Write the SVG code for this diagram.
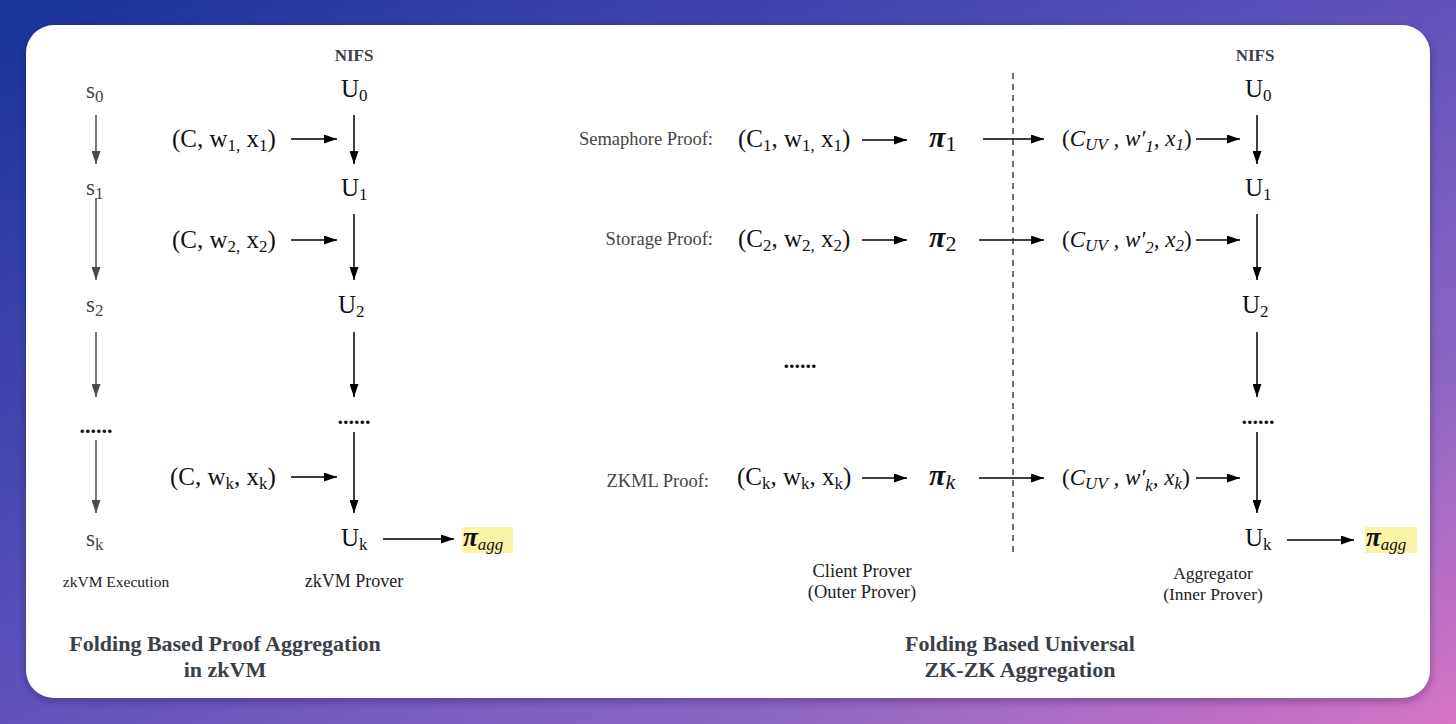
<svg xmlns="http://www.w3.org/2000/svg" width="1456" height="724" viewBox="0 0 1456 724">
<defs>
<linearGradient id="bg" x1="0" y1="0" x2="1" y2="1">
<stop offset="0" stop-color="#17349a"/>
<stop offset="0.45" stop-color="#5a4fb8"/>
<stop offset="0.75" stop-color="#8a66c4"/>
<stop offset="1" stop-color="#d874c4"/>
</linearGradient>
<filter id="sh" x="-5%" y="-5%" width="110%" height="115%">
<feDropShadow dx="0" dy="3" stdDeviation="4" flood-color="#1a1040" flood-opacity="0.35"/>
</filter>
<marker id="ah" markerUnits="userSpaceOnUse" markerWidth="13" markerHeight="9" refX="13" refY="4.5" orient="auto">
<path d="M0,0 L13,4.5 L0,9 z" fill="#000"/>
</marker>
<marker id="ahg" markerUnits="userSpaceOnUse" markerWidth="13" markerHeight="9" refX="13" refY="4.5" orient="auto">
<path d="M0,0 L13,4.5 L0,9 z" fill="#454a55"/>
</marker>
<style>
.m{font-family:"Liberation Serif",serif;font-size:25px;fill:#111}
.mi{font-family:"Liberation Serif",serif;font-style:italic;font-size:23px;fill:#111}
.sub{font-size:17px}
.s{font-family:"Liberation Serif",serif;font-size:23px;fill:#444}
.lbl{font-family:"Liberation Serif",serif;font-size:18.5px;fill:#444}
.cap{font-family:"Liberation Serif",serif;font-size:18px;fill:#222}
.nifs{font-family:"Liberation Serif",serif;font-size:17px;font-weight:bold;fill:#3a3f4a}
.title{font-family:"Liberation Serif",serif;font-size:22px;font-weight:bold;fill:#3a3f4a}
.pi{font-family:"Liberation Serif",serif;font-style:italic;font-weight:bold;font-size:30px;fill:#111}
.pa{font-family:"Liberation Serif",serif;font-style:italic;font-weight:bold;font-size:27px;fill:#111}
.dots{font-family:"Liberation Serif",serif;font-size:22px;font-weight:bold;fill:#111}
.a{stroke:#000;stroke-width:1.5;fill:none;marker-end:url(#ah)}
.ag{stroke:#454a55;stroke-width:1.5;fill:none;marker-end:url(#ahg)}
.hl{fill:#fbf3a6}
</style>
</defs>
<rect x="0" y="0" width="1456" height="724" fill="url(#bg)"/>
<rect x="26" y="25" width="1404" height="673" rx="28" ry="28" fill="#fff" filter="url(#sh)"/>

<g id="connectors">
<line class="ag" x1="96" y1="115" x2="96" y2="164"/>
<line class="ag" x1="96" y1="198" x2="96" y2="280"/>
<line class="ag" x1="96" y1="332" x2="96" y2="397"/>
<line class="ag" x1="96" y1="440" x2="96" y2="513"/>
<line class="a" x1="354" y1="115" x2="354" y2="164"/>
<line class="a" x1="354" y1="214" x2="354" y2="280"/>
<line class="a" x1="354" y1="332" x2="354" y2="397"/>
<line class="a" x1="354" y1="432" x2="354" y2="513"/>
<line class="a" x1="291" y1="139" x2="337" y2="139"/>
<line class="a" x1="291" y1="240" x2="337" y2="240"/>
<line class="a" x1="291" y1="477" x2="337" y2="477"/>
<line class="a" x1="383" y1="539" x2="454" y2="539"/>
<line class="a" x1="862" y1="140" x2="907" y2="140"/>
<line class="a" x1="862" y1="240" x2="907" y2="240"/>
<line class="a" x1="862" y1="478" x2="907" y2="478"/>
<line class="a" x1="983" y1="139" x2="1044" y2="139"/>
<line class="a" x1="979" y1="240" x2="1044" y2="240"/>
<line class="a" x1="979" y1="478" x2="1044" y2="478"/>
<line class="a" x1="1196" y1="139" x2="1240" y2="139"/>
<line class="a" x1="1196" y1="240" x2="1240" y2="240"/>
<line class="a" x1="1196" y1="478" x2="1240" y2="478"/>
<line class="a" x1="1257" y1="115" x2="1257" y2="164"/>
<line class="a" x1="1257" y1="214" x2="1257" y2="280"/>
<line class="a" x1="1257" y1="332" x2="1257" y2="397"/>
<line class="a" x1="1257" y1="432" x2="1257" y2="513"/>
<line class="a" x1="1287" y1="540" x2="1354" y2="540"/>
<line x1="1013" y1="73" x2="1013" y2="557" stroke="#222" stroke-width="1.3" stroke-dasharray="6,5"/>
</g>

<g id="left-s">
<text class="s" x="86" y="98">s<tspan class="sub" dy="4">0</tspan></text>
<text class="s" x="86" y="195">s<tspan class="sub" dy="4">1</tspan></text>
<text class="s" x="86" y="312">s<tspan class="sub" dy="4">2</tspan></text>
<text class="dots" x="96" y="433" text-anchor="middle">......</text>
<text class="s" x="86" y="546">s<tspan class="sub" dy="4">k</tspan></text>
<text class="cap" x="116" y="587" text-anchor="middle" style="font-size:15.5px">zkVM Execution</text>
</g>

<g id="left-u">
<text class="nifs" x="354" y="61" text-anchor="middle">NIFS</text>
<text class="m" x="341" y="97">U<tspan class="sub" dy="4">0</tspan></text>
<text class="m" x="341" y="196">U<tspan class="sub" dy="4">1</tspan></text>
<text class="m" x="338" y="313">U<tspan class="sub" dy="4">2</tspan></text>
<text class="dots" x="354" y="424" text-anchor="middle">......</text>
<text class="m" x="341" y="546">U<tspan class="sub" dy="4">k</tspan></text>
<text class="cap" x="354" y="587" text-anchor="middle">zkVM Prover</text>
</g>

<g id="left-inputs">
<text class="m" x="172" y="147">(C, w<tspan class="sub" dy="4">1,</tspan><tspan dy="-4"> x</tspan><tspan class="sub" dy="4">1</tspan><tspan dy="-4">)</tspan></text>
<text class="m" x="172" y="248">(C, w<tspan class="sub" dy="4">2,</tspan><tspan dy="-4"> x</tspan><tspan class="sub" dy="4">2</tspan><tspan dy="-4">)</tspan></text>
<text class="m" x="170" y="485">(C, w<tspan class="sub" dy="4">k</tspan><tspan dy="-4">, x</tspan><tspan class="sub" dy="4">k</tspan><tspan dy="-4">)</tspan></text>
</g>

<g id="left-agg">
<rect class="hl" x="462" y="527" width="51" height="26"/>
<text class="pa" x="463" y="546">π<tspan class="sub" font-weight="normal" dy="4">agg</tspan></text>
</g>

<g id="right-client">
<text class="lbl" x="713" y="145" text-anchor="end">Semaphore Proof:</text>
<text class="lbl" x="713" y="245" text-anchor="end">Storage Proof:</text>
<text class="lbl" x="709" y="487" text-anchor="end">ZKML Proof:</text>
<text class="m" x="738" y="147">(C<tspan class="sub" dy="4">1</tspan><tspan dy="-4">, w</tspan><tspan class="sub" dy="4">1,</tspan><tspan dy="-4"> x</tspan><tspan class="sub" dy="4">1</tspan><tspan dy="-4">)</tspan></text>
<text class="m" x="738" y="247">(C<tspan class="sub" dy="4">2</tspan><tspan dy="-4">, w</tspan><tspan class="sub" dy="4">2,</tspan><tspan dy="-4"> x</tspan><tspan class="sub" dy="4">2</tspan><tspan dy="-4">)</tspan></text>
<text class="m" x="737" y="485">(C<tspan class="sub" dy="4">k</tspan><tspan dy="-4">, w</tspan><tspan class="sub" dy="4">k</tspan><tspan dy="-4">, x</tspan><tspan class="sub" dy="4">k</tspan><tspan dy="-4">)</tspan></text>
<text class="pi" x="929" y="147">π<tspan font-style="normal" font-weight="normal" font-size="22" dy="4">1</tspan></text>
<text class="pi" x="929" y="247">π<tspan font-style="normal" font-weight="normal" font-size="22" dy="4">2</tspan></text>
<text class="pi" x="929" y="485">π<tspan font-weight="normal" font-size="22" dy="4">k</tspan></text>
<text class="dots" x="800" y="368" text-anchor="middle">......</text>
<text class="cap" x="862" y="577" text-anchor="middle" style="font-size:18.5px">Client Prover</text>
<text class="cap" x="862" y="598" text-anchor="middle" style="font-size:18.5px">(Outer Prover)</text>
</g>

<g id="right-inputs">
<text class="mi" x="1062" y="146"><tspan font-style="normal">(</tspan>C<tspan class="sub" dy="4">UV</tspan><tspan dy="-4"> , w′</tspan><tspan class="sub" dy="6">1</tspan><tspan dy="-6">, x</tspan><tspan class="sub" dy="4">1</tspan><tspan dy="-4" font-style="normal">)</tspan></text>
<text class="mi" x="1062" y="247"><tspan font-style="normal">(</tspan>C<tspan class="sub" dy="4">UV</tspan><tspan dy="-4"> , w′</tspan><tspan class="sub" dy="6">2</tspan><tspan dy="-6">, x</tspan><tspan class="sub" dy="4">2</tspan><tspan dy="-4" font-style="normal">)</tspan></text>
<text class="mi" x="1062" y="485"><tspan font-style="normal">(</tspan>C<tspan class="sub" dy="4">UV</tspan><tspan dy="-4"> , w′</tspan><tspan class="sub" dy="6">k</tspan><tspan dy="-6">, x</tspan><tspan class="sub" dy="4">k</tspan><tspan dy="-4" font-style="normal">)</tspan></text>
</g>

<g id="right-u">
<text class="nifs" x="1255" y="61" text-anchor="middle">NIFS</text>
<text class="m" x="1245" y="97">U<tspan class="sub" dy="4">0</tspan></text>
<text class="m" x="1245" y="196">U<tspan class="sub" dy="4">1</tspan></text>
<text class="m" x="1242" y="313">U<tspan class="sub" dy="4">2</tspan></text>
<text class="dots" x="1258" y="424" text-anchor="middle">......</text>
<text class="m" x="1245" y="546">U<tspan class="sub" dy="4">k</tspan></text>
<text class="cap" x="1213" y="579" text-anchor="middle" style="font-size:17.5px">Aggregator</text>
<text class="cap" x="1213" y="600" text-anchor="middle" style="font-size:17.5px">(Inner Prover)</text>
</g>

<g id="right-agg">
<rect class="hl" x="1365" y="527" width="52" height="26"/>
<text class="pa" x="1366" y="546">π<tspan class="sub" font-weight="normal" dy="4">agg</tspan></text>
</g>

<g id="titles">
<text class="title" x="225" y="651" text-anchor="middle">Folding Based Proof Aggregation</text>
<text class="title" x="225" y="677" text-anchor="middle">in zkVM</text>
<text class="title" x="1020" y="651" text-anchor="middle">Folding Based Universal</text>
<text class="title" x="1020" y="677" text-anchor="middle">ZK-ZK Aggregation</text>
</g>
</svg>
